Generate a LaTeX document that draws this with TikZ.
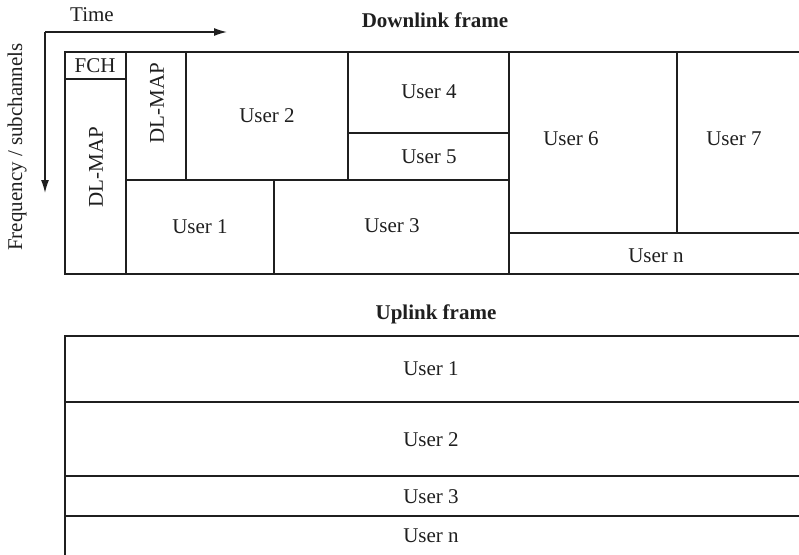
\documentclass[tikz,border=0pt]{standalone}
\usepackage{fontspec}
\setmainfont{Liberation Serif}
\usetikzlibrary{arrows.meta}

\begin{document}
\begin{tikzpicture}[
          x=1pt, y=-1pt,
          font=\fontsize{21}{25}\selectfont,
          frameline/.style={draw=black!88, line width=2.4pt},
          axisline/.style={draw=black!88, line width=1.3pt, -{Latex[length=13pt, width=8pt]}},
          cellname/.style={inner sep=0pt, text=black!88},
          frametitle/.style={inner sep=0pt, text=black!88, font=\fontsize{21}{25}\selectfont\bfseries}
        ]
        \clip (0,0) rectangle (799,554);

        % ----------------------------------------------------
        % AXES: TIME / FREQUENCY
        % ----------------------------------------------------
        \coordinate (corner) at (45,32);
        \coordinate (timeend) at (227,32);
        \coordinate (freqend) at (45,193);
        \draw[axisline] (corner) -- (timeend);
        \draw[axisline] (corner) -- (freqend);
        \node (time) at (92,15) [cellname] {Time};
        \node (freq) at (17,147) [cellname, rotate=90] {Frequency / subchannels};

        % ----------------------------------------------------
        % DOWNLINK FRAME
        % ----------------------------------------------------
        \node (dltitle) at (435,20) [frametitle] {Downlink frame};

        \draw[frameline] (803,52) -- (65,52) -- (65,274) -- (803,274);
        \draw[frameline] (65,79) -- (126,79);
        \draw[frameline] (126,52) -- (126,274);
        \draw[frameline] (186,52) -- (186,180);
        \draw[frameline] (126,180) -- (509,180);
        \draw[frameline] (348,52) -- (348,180);
        \draw[frameline] (348,133) -- (509,133);
        \draw[frameline] (274,180) -- (274,274);
        \draw[frameline] (509,52) -- (509,274);
        \draw[frameline] (509,233) -- (803,233);
        \draw[frameline] (677,52) -- (677,233);

        \node (fch) at (95,66) [cellname] {FCH};
        \node (dlmapa) at (96,167) [cellname, rotate=90] {DL-MAP};
        \node (dlmapb) at (157,103) [cellname, rotate=90] {DL-MAP};
        \node (dluser2) at (267,116) [cellname] {User 2};
        \node (dluser4) at (429,92) [cellname] {User 4};
        \node (dluser5) at (429,157) [cellname] {User 5};
        \node (dluser1) at (200,227) [cellname] {User 1};
        \node (dluser3) at (392,226) [cellname] {User 3};
        \node (dluser6) at (571,139) [cellname] {User 6};
        \node (dluser7) at (734,139) [cellname] {User 7};
        \node (dlusern) at (656,256) [cellname] {User n};

        % ----------------------------------------------------
        % UPLINK FRAME
        % ----------------------------------------------------
        \node (ultitle) at (436,314) [frametitle] {Uplink frame};

        \draw[frameline] (803,336) -- (65,336) -- (65,560);
        \foreach \rowy in {402,476,516}
          \draw[frameline] (65,\rowy) -- (803,\rowy);

        \node (uluser1) at (431,369) [cellname] {User 1};
        \node (uluser2) at (431,440) [cellname] {User 2};
        \node (uluser3) at (431,497) [cellname] {User 3};
        \node (ulusern) at (431,536) [cellname] {User n};
      \end{tikzpicture}
\end{document}
